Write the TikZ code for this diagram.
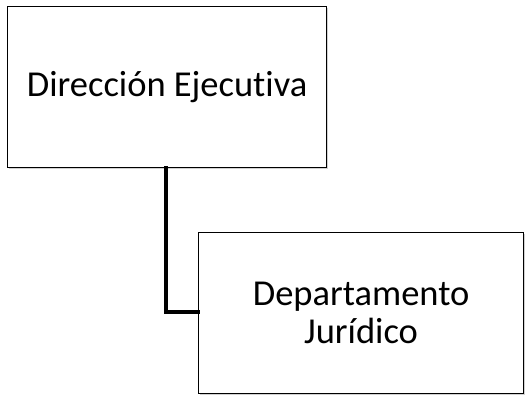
\documentclass[tikz,border=0pt]{standalone}
\usepackage{fontspec}
\setmainfont[Ligatures=NoCommon]{Carlito}
\usetikzlibrary{shadows}
\begin{document}
\begin{tikzpicture}[x=1pt,y=-1pt,
  box/.style={draw=black,line width=1.2pt,fill=white,inner sep=0pt,
    drop shadow={shadow xshift=1.5pt,shadow yshift=-1.5pt,fill=black!30,opacity=0.6}},
  conn/.style={line width=4pt,line cap=rect}]
\useasboundingbox (0,0) rectangle (525,395);
\node[box,minimum width=319pt,minimum height=161pt,anchor=north west,font=\fontsize{36.5}{38}\selectfont] (a) at (7,6) {Dirección Ejecutiva};
\node[box,minimum width=325pt,minimum height=161pt,anchor=north west,font=\fontsize{36.5}{38}\selectfont,align=center] (b) at (198,232) {Departamento\\Jurídico};
\coordinate (c) at (a.south -| 166,0);
\coordinate (k) at (166,312);
\draw[conn] (c) -- (k) -- (k -| b.west);
\end{tikzpicture}
\end{document}
